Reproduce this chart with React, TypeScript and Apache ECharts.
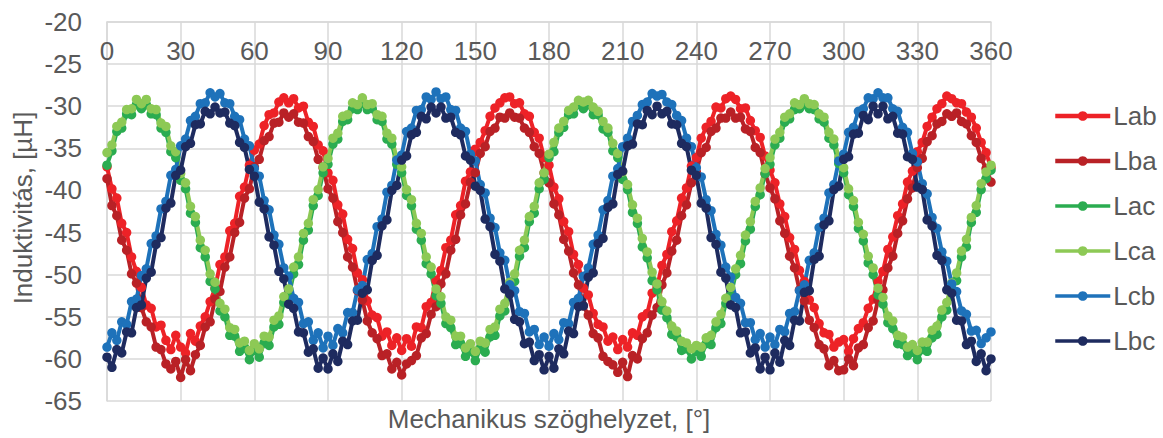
import React, { useEffect, useRef } from "react";
import * as echarts from "echarts";

// Sample spacing of the measurement (degrees of mechanical angle)
const ANGLE_STEP = 2;

const seriesNames = ["Lab", "Lba", "Lac", "Lca", "Lcb", "Lbc"];
const seriesColors = ["#ED2227", "#B92126", "#2BAC50", "#8DC955", "#1E72BA", "#1E2B5F"];

const Lab = [
  -37.2,-39.8,-40.9,-43.9,-45.0,-47.9,-49.6,-51.5,-53.6,-54.0,-56.2,-56.0,-57.8,-58.9,-57.2,-58.6,-59.3,-57.0,-57.9,-56.1,-55.0,-53.2,-51.6,-48.8,-47.9,-44.8,-43.9,-40.7,-39.6,-37.0,-35.2,-34.5,-32.3,-31.0,-30.8,-29.5,-29.0,-29.6,-29.1,-30.2,-30.0,-31.9,-32.4,-34.6,-35.3,
  -37.9,-38.8,-41.7,-42.8,-45.8,-46.9,-49.8,-50.6,-53.1,-54.8,-55.1,-57.3,-56.8,-58.4,-57.5,-59.0,-57.6,-58.5,-56.2,-56.3,-53.8,-53.3,-50.7,-49.5,-46.8,-45.9,-42.9,-41.8,-38.9,-37.8,-35.1,-34.3,-32.9,-31.2,-30.2,-29.6,-29.0,-28.9,-29.7,-29.6,-30.9,-31.2,-33.1,-33.8,-36.1,
  -37.0,-39.6,-41.0,-43.7,-44.9,-47.6,-48.8,-51.6,-52.4,-54.6,-55.9,-56.2,-57.9,-57.4,-58.9,-57.7,-58.6,-56.9,-57.2,-55.0,-54.6,-52.2,-51.5,-48.9,-47.6,-44.9,-43.6,-40.9,-39.7,-37.1,-36.1,-33.8,-32.5,-31.8,-30.1,-30.2,-29.1,-28.8,-29.2,-30.3,-30.2,-31.7,-32.9,-33.7,-35.9,
  -37.6,-39.1,-41.6,-43.1,-45.6,-47.0,-49.5,-50.8,-53.0,-53.9,-55.8,-56.9,-57.1,-58.6,-58.0,-57.7,-59.1,-57.6,-56.4,-55.7,-54.0,-52.9,-50.8,-49.6,-47.0,-45.5,-43.0,-41.6,-39.0,-37.7,-35.4,-34.3,-32.4,-31.3,-30.3,-29.7,-28.8,-29.1,-29.6,-29.7,-30.7,-31.3,-32.6,-34.3,-35.5,
  -37.3,
];

const Lba = [
  -38.6,-41.8,-43.0,-45.9,-47.1,-49.9,-51.0,-53.9,-55.6,-56.2,-58.6,-58.9,-60.6,-61.2,-60.3,-62.2,-60.1,-61.4,-59.5,-58.4,-56.2,-55.6,-52.9,-52.0,-49.1,-47.9,-45.0,-43.8,-40.9,-39.8,-37.2,-36.3,-34.1,-33.6,-32.0,-31.9,-30.8,-31.3,-30.9,-31.9,-32.0,-33.6,-34.2,-36.3,-37.3,
  -39.8,-40.9,-43.7,-45.0,-47.9,-49.1,-51.9,-53.0,-55.5,-56.9,-57.6,-59.6,-59.4,-61.2,-60.4,-61.9,-60.6,-60.2,-59.6,-57.5,-57.0,-54.7,-53.8,-51.1,-49.9,-47.1,-45.8,-42.9,-41.6,-39.0,-37.9,-35.6,-34.8,-33.0,-32.6,-31.3,-31.4,-30.8,-31.3,-31.4,-32.6,-33.1,-34.8,-35.6,-37.9,
  -39.1,-41.6,-42.9,-45.8,-47.2,-49.8,-51.2,-53.7,-54.8,-57.0,-57.5,-59.7,-60.3,-60.7,-61.6,-60.4,-62.1,-59.6,-60.0,-57.6,-56.9,-54.8,-53.9,-51.2,-49.8,-47.2,-45.9,-43.0,-41.7,-39.1,-37.8,-35.5,-34.9,-33.0,-32.6,-31.4,-31.4,-30.7,-31.4,-31.3,-32.7,-33.0,-34.9,-35.5,-38.0,
  -39.7,-41.0,-43.6,-45.1,-47.8,-49.2,-51.8,-53.1,-55.4,-56.3,-58.3,-58.8,-60.8,-60.2,-61.4,-61.3,-60.0,-60.8,-58.7,-58.3,-56.3,-55.5,-53.0,-51.8,-49.2,-47.8,-45.1,-43.6,-41.0,-39.7,-37.3,-36.2,-34.2,-33.5,-32.1,-31.8,-30.9,-31.2,-30.8,-31.8,-32.1,-33.5,-34.3,-36.2,-37.4,
  -39.0,
];

const Lac = [
  -37.0,-35.3,-33.0,-32.6,-30.9,-31.0,-29.8,-30.3,-29.8,-30.9,-31.0,-32.6,-33.1,-35.4,-36.1,-38.8,-39.8,-42.7,-43.8,-46.8,-47.9,-50.8,-51.7,-54.3,-55.0,-57.2,-57.3,-59.1,-58.7,-60.1,-59.0,-59.8,-58.1,-58.4,-56.2,-55.9,-53.3,-52.6,-49.9,-48.8,-45.9,-44.7,-41.8,-40.6,-37.9,
  -36.9,-34.5,-33.9,-31.8,-31.6,-30.3,-30.4,-29.7,-30.4,-30.3,-31.6,-31.8,-33.9,-34.5,-36.9,-37.9,-40.6,-41.8,-44.6,-45.9,-48.7,-49.9,-52.5,-53.4,-55.8,-56.3,-58.3,-58.2,-59.7,-59.1,-60.2,-58.8,-59.2,-57.4,-57.2,-54.9,-54.3,-51.7,-50.8,-47.8,-46.8,-43.7,-42.7,-39.8,-38.7,
  -36.1,-35.4,-33.1,-32.5,-31.0,-30.9,-29.8,-30.3,-29.8,-31.0,-31.0,-32.7,-33.1,-35.3,-36.1,-38.7,-39.9,-42.6,-43.9,-46.7,-48.0,-50.7,-51.8,-54.2,-55.1,-57.1,-57.4,-59.0,-58.8,-60.0,-59.1,-59.7,-58.2,-58.3,-56.3,-55.8,-53.4,-52.5,-50.0,-48.7,-46.0,-44.6,-41.9,-40.5,-38.0,
  -36.9,-34.6,-33.8,-31.9,-31.5,-30.4,-30.3,-29.8,-30.3,-30.4,-31.5,-31.9,-33.8,-34.6,-36.8,-37.9,-40.5,-41.9,-44.5,-46.0,-48.6,-50.0,-52.4,-53.5,-55.7,-56.4,-58.2,-58.3,-59.6,-59.2,-60.1,-58.9,-59.1,-57.5,-57.1,-55.0,-54.2,-51.8,-50.7,-47.9,-46.7,-43.8,-42.6,-39.9,-38.6,
  -37.6,
];

const Lca = [
  -35.5,-34.6,-32.4,-31.9,-30.4,-30.3,-29.2,-29.7,-29.2,-30.3,-30.4,-32.0,-32.4,-34.7,-35.4,-38.0,-39.1,-41.9,-43.1,-45.9,-47.1,-49.9,-50.9,-53.4,-54.1,-56.3,-56.5,-58.1,-57.9,-59.0,-58.2,-58.8,-57.3,-57.4,-55.4,-54.9,-52.6,-51.7,-49.1,-47.9,-45.1,-43.9,-41.1,-39.9,-37.2,
  -36.2,-33.8,-33.2,-31.2,-31.0,-29.6,-29.8,-29.0,-29.8,-29.7,-31.0,-31.2,-33.2,-33.8,-36.2,-37.2,-39.9,-41.1,-43.9,-45.1,-47.9,-49.1,-51.7,-52.6,-55.0,-55.4,-57.3,-57.3,-58.7,-58.2,-59.1,-57.9,-58.1,-56.5,-56.2,-54.1,-53.4,-50.9,-49.9,-47.1,-45.9,-43.1,-41.9,-39.1,-37.9,
  -35.7,-34.3,-32.6,-31.8,-30.5,-30.1,-29.3,-29.5,-29.3,-30.1,-30.6,-31.8,-32.6,-34.4,-35.6,-37.8,-39.3,-41.7,-43.3,-45.7,-47.3,-49.7,-51.1,-53.2,-54.3,-56.1,-56.7,-57.9,-58.1,-58.8,-58.4,-58.6,-57.5,-57.2,-55.6,-54.7,-52.8,-51.5,-49.3,-47.7,-45.3,-43.7,-41.3,-39.7,-37.4,
  -36.1,-33.9,-33.1,-31.3,-30.9,-29.6,-29.8,-29.1,-29.7,-29.8,-30.9,-31.3,-33.1,-33.9,-36.1,-37.3,-39.8,-41.2,-43.8,-45.2,-47.8,-49.2,-51.6,-52.7,-54.9,-55.5,-57.2,-57.4,-58.6,-58.3,-59.0,-58.0,-58.0,-56.6,-56.1,-54.2,-53.3,-51.0,-49.8,-47.2,-45.8,-43.2,-41.8,-39.2,-37.8,
  -37.0,
];

const Lcb = [
  -58.6,-56.9,-57.8,-55.6,-55.9,-53.2,-52.9,-50.1,-49.3,-46.3,-45.4,-42.2,-41.3,-38.2,-37.5,-34.7,-33.9,-31.7,-31.2,-29.7,-29.6,-28.4,-28.9,-28.5,-29.6,-29.7,-31.2,-31.6,-33.9,-34.7,-37.4,-38.3,-41.2,-42.3,-45.3,-46.4,-49.2,-50.2,-52.8,-53.3,-55.8,-55.6,-57.8,-56.9,-58.7,
  -57.3,-58.4,-56.4,-56.9,-54.5,-54.5,-51.8,-51.3,-48.2,-47.5,-44.3,-43.4,-40.2,-39.4,-36.4,-35.8,-33.0,-32.6,-30.5,-30.4,-28.9,-29.2,-28.3,-29.1,-28.9,-30.4,-30.5,-32.6,-33.0,-35.7,-36.5,-39.3,-40.3,-43.3,-44.4,-47.4,-48.3,-51.2,-51.9,-54.4,-54.6,-56.8,-56.5,-58.3,-57.4,
  -58.5,-57.0,-57.7,-55.7,-55.8,-53.3,-52.8,-50.2,-49.2,-46.4,-45.3,-42.3,-41.2,-38.3,-37.4,-34.8,-33.8,-31.8,-31.1,-29.8,-29.5,-28.5,-28.8,-28.6,-29.5,-29.8,-31.1,-31.7,-33.8,-34.8,-37.3,-38.4,-41.1,-42.4,-45.2,-46.5,-49.1,-50.3,-52.7,-53.4,-55.7,-55.7,-57.7,-57.0,-58.6,
  -57.4,-58.3,-56.5,-56.8,-54.6,-54.4,-51.9,-51.2,-48.3,-47.4,-44.4,-43.3,-40.3,-39.3,-36.5,-35.7,-33.1,-32.5,-30.6,-30.3,-29.0,-29.1,-28.4,-29.0,-29.0,-30.3,-30.6,-32.5,-33.1,-35.6,-36.6,-39.2,-40.4,-43.2,-44.5,-47.3,-48.4,-51.1,-52.0,-54.3,-54.7,-56.7,-56.6,-58.2,-57.5,
  -56.8,
];

const Lbc = [
  -59.8,-61.0,-58.9,-59.3,-56.8,-56.9,-53.9,-53.6,-50.4,-49.7,-46.4,-45.6,-42.1,-41.5,-38.2,-37.6,-34.8,-34.4,-32.2,-32.1,-30.6,-30.9,-30.1,-30.8,-30.7,-32.0,-32.3,-34.3,-34.9,-37.5,-38.3,-41.4,-42.2,-45.5,-46.5,-49.6,-50.5,-53.5,-54.0,-56.8,-56.9,-59.2,-58.8,-61.1,-59.9,
  -61.2,-59.4,-60.3,-57.9,-58.3,-55.5,-55.4,-52.2,-51.8,-48.3,-47.7,-44.2,-43.5,-40.0,-39.4,-36.4,-35.9,-33.4,-33.1,-31.2,-31.5,-30.1,-30.8,-30.1,-31.4,-31.3,-33.1,-33.4,-35.9,-36.4,-39.5,-40.0,-43.4,-44.3,-47.6,-48.4,-51.7,-52.3,-55.3,-55.6,-58.2,-58.0,-60.2,-59.5,-61.3,
  -59.7,-61.1,-58.8,-59.4,-56.7,-57.0,-53.8,-53.7,-50.3,-49.8,-46.3,-45.7,-42.0,-41.6,-38.1,-37.7,-34.7,-34.5,-32.1,-32.2,-30.5,-31.0,-30.0,-30.9,-30.6,-32.1,-32.2,-34.4,-34.8,-37.6,-38.2,-41.5,-42.1,-45.6,-46.4,-49.7,-50.4,-53.6,-53.9,-56.9,-56.8,-59.3,-58.7,-61.2,-59.8,
  -61.3,-59.3,-60.4,-57.8,-58.4,-55.4,-55.5,-52.1,-51.9,-48.2,-47.8,-44.1,-43.6,-39.9,-39.5,-36.3,-36.0,-33.3,-33.2,-31.1,-31.6,-30.0,-30.9,-30.0,-31.5,-31.2,-33.2,-33.3,-36.0,-36.3,-39.6,-39.9,-43.5,-44.2,-47.7,-48.3,-51.8,-52.2,-55.4,-55.5,-58.3,-57.9,-60.3,-59.4,-61.4,
  -60.0,
];

const seriesValues = [Lab, Lba, Lac, Lca, Lcb, Lbc];

const X_MIN = 0;
const X_MAX = 360;
const X_INTERVAL = 30;
const Y_MIN = -65;
const Y_MAX = -20;
const Y_INTERVAL = 5;

const xTitle = "Mechanikus szöghelyzet, [°]";
const yTitle = "Induktivitás, [µH]";

const FONT = "'Liberation Sans', Arial, sans-serif";
const TEXT = "#595959";
const GRID = "#D9D9D9";
const FS = 26;

export default function App() {
  const ref = useRef<HTMLDivElement>(null);

  useEffect(() => {
    if (!ref.current) return;
    const chart = echarts.init(ref.current, null, { renderer: "svg" });
    const legendWidths = [4.5, 4.5, 3.5, 3.5, 3.5, 3.5];
    chart.setOption({
      animation: false,
      backgroundColor: "#ffffff",
      textStyle: { fontFamily: FONT },
      grid: { left: 107, right: 172, top: 22, bottom: 37, containLabel: false },
      xAxis: {
        type: "value",
        position: "top",
        min: X_MIN,
        max: X_MAX,
        interval: X_INTERVAL,
        axisLine: { show: true, lineStyle: { color: GRID, width: 1.5 } },
        axisTick: { show: false },
        axisLabel: { inside: true, margin: 16, fontSize: FS, color: TEXT, fontFamily: FONT },
        splitLine: { show: true, lineStyle: { color: GRID, width: 1.5 } },
      },
      yAxis: {
        type: "value",
        min: Y_MIN,
        max: Y_MAX,
        interval: Y_INTERVAL,
        axisLine: { show: true, lineStyle: { color: GRID, width: 1.5 } },
        axisTick: { show: false },
        axisLabel: { margin: 25, fontSize: FS, color: TEXT, fontFamily: FONT },
        splitLine: { show: true, lineStyle: { color: GRID, width: 1.5 } },
      },
      legend: {
        orient: "vertical",
        left: 1053,
        top: 103,
        itemWidth: 55,
        itemHeight: 12,
        itemGap: 19,
        padding: 0,
        selectedMode: false,
        textStyle: { fontSize: FS, color: TEXT, fontFamily: FONT, padding: [0, 0, 0, -2] },
        data: seriesNames.map((n, i) => ({ name: n, lineStyle: { width: legendWidths[i] } })),
      },
      series: seriesNames.map((name, si) => ({
        name,
        type: "line",
        data: seriesValues[si].map((v, i) => [i * ANGLE_STEP, v]),
        symbol: "circle",
        symbolSize: 9.5,
        showSymbol: true,
        showAllSymbol: true,
        lineStyle: { width: 4, color: seriesColors[si] },
        itemStyle: { color: seriesColors[si] },
        emphasis: { disabled: true },
        silent: true,
      })),
      graphic: [
        {
          type: "text",
          x: 549,
          y: 419,
          style: { text: xTitle, fill: TEXT, font: `${FS}px ${FONT}`, align: "center", verticalAlign: "middle" },
        },
        {
          type: "text",
          x: 23,
          y: 208,
          rotation: Math.PI / 2,
          style: { text: yTitle, fill: TEXT, font: `${FS}px ${FONT}`, align: "center", verticalAlign: "middle" },
        },
      ],
    });
    return () => chart.dispose();
  }, []);

  return (
    <div
      ref={ref}
      style={{ position: "absolute", left: 0, top: 0, width: 1163, height: 438 }}
    />
  );
}
